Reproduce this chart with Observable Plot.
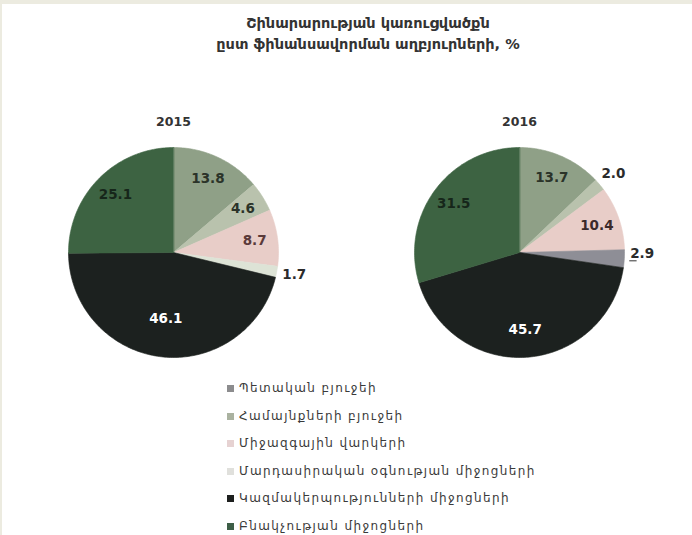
<!DOCTYPE html>
<html>
<head>
<meta charset="utf-8">
<script src="https://cdn.jsdelivr.net/npm/d3@7"></script>
<script src="https://cdn.jsdelivr.net/npm/@observablehq/plot@0.6"></script>
<style>
  html, body { margin: 0; padding: 0; background: #fff; }
  #wrap { position: relative; width: 692px; height: 535px; box-sizing: border-box;
          border-top: 4px solid #ecebe0; border-left: 2px solid #ecebe0; overflow: hidden; }
  #title { position: absolute; left: 166px; top: 9px; width: 400px; text-align: center;
           font-family: "DejaVu Sans", sans-serif; font-weight: bold; font-size: 14.5px;
           line-height: 21px; color: #333; }
  #chart { position: absolute; left: -2px; top: 96px; }
  #legend { position: absolute; left: 225px; top: 371px; font-family: "DejaVu Sans", sans-serif;
            font-size: 12px; color: #3a3a3a; letter-spacing: 1.4px; }
  .row { height: 27.5px; line-height: 27.5px; white-space: nowrap; }
  .sw { display: inline-block; width: 7px; height: 7px; margin-right: 5px; vertical-align: 0px; }
</style>
</head>
<body>
<div id="wrap">
  <div id="title"></div>
  <div id="chart"></div>
  <div id="legend"></div>
</div>
<script>
// ---- data ----
const titleLines = ["Շինարարության կառուցվածքն", "ըստ ֆինանսավորման աղբյուրների, %"];
const years = ["2015", "2016"];
const categories = [
  "Պետական բյուջեի",
  "Համայնքների բյուջեի",
  "Միջազգային վարկերի",
  "Մարդասիրական օգնության միջոցների",
  "Կազմակերպությունների միջոցների",
  "Բնակչության միջոցների"
];
// slices in clockwise order from 12 o'clock, as drawn
const values2015 = [13.8, 4.6, 8.7, 1.7, 46.1, 25.1];
const values2016 = [13.7, 2.0, 10.4, 2.9, 45.7, 31.5];
const labels2015 = ["13.8", "4.6", "8.7", "1.7", "46.1", "25.1"];
const labels2016 = ["13.7", "2.0", "10.4", "2.9", "45.7", "31.5"];

// ---- styles ----
const legendColors = ["#8c8c8e", "#aab2a0", "#e6d2d2", "#e0e0dc", "#1d1f1e", "#3d5e47"];
const sliceColors2015 = ["#8fa087", "#b9c2ad", "#e8cdc8", "#dde3d6", "#1c211f", "#3d6342"];
const sliceColors2016 = ["#8fa087", "#b9c2ad", "#e8cdc8", "#8e8e96", "#1c211f", "#3d6342"];
const textColors2015 = ["#2b3329", "#2b3329", "#5a3a3a", "#2b2b2b", "#ffffff", "#16261a"];
const textColors2016 = ["#2b3329", "#2b2b2b", "#3a2a2a", "#2b2b2b", "#ffffff", "#16261a"];

// ---- layout ----
const W = 692, H = 274, R = 105;
const cyPx = 152;               // pie centre from svg top
const half = 173 / R;           // pie centre offset (units of radius)
const centers = [-half, half];
const yTitle = (cyPx - 21) / R;

document.getElementById("title").innerHTML = titleLines.map(t => `<div>${t}</div>`).join("");

const series = [
  {year: years[0], values: values2015, labels: labels2015, fills: sliceColors2015, tcol: textColors2015},
  {year: years[1], values: values2016, labels: labels2016, fills: sliceColors2016, tcol: textColors2016}
];

const polys = [], texts = [], leaders = [];
series.forEach((s, si) => {
  const cx = centers[si];
  const arcs = d3.pie().sort(null).value(d => d)(s.values);
  arcs.forEach((a, i) => {
    const key = s.year + "-" + i;
    polys.push({key, x: cx, y: 0, fill: s.fills[i]});
    const n = Math.max(2, Math.ceil((a.endAngle - a.startAngle) / (Math.PI / 180)));
    for (let k = 0; k <= n; k++) {
      const t = a.startAngle + (a.endAngle - a.startAngle) * k / n;
      polys.push({key, x: cx + Math.sin(t), y: Math.cos(t), fill: s.fills[i]});
    }
    const mid = (a.startAngle + a.endAngle) / 2;
    const v = s.values[i];
    const small = v < 3.5 && !(s.year === "2015" && i === 1);
    const rr = small ? 1.17 : (v > 40 ? (s.year === "2015" ? 0.63 : 0.74) : 0.78);
    let ty = rr * Math.cos(mid);
    if (small && s.year === "2016" && i === 3) {
      ty += 0.06;
      leaders.push({x1: cx + 1.05, x2: cx + 1.12, y: ty - 0.07});
    }
    texts.push({x: cx + rr * Math.sin(mid), y: ty, text: s.labels[i], fill: s.tcol[i]});
  });
});

const plot = Plot.plot({
  width: W, height: H,
  marginLeft: 0, marginRight: 0, marginTop: 0, marginBottom: 0,
  x: {domain: [-W / 2 / R, W / 2 / R], axis: null},
  y: {domain: [-(H - cyPx) / R, cyPx / R], axis: null},
  color: {type: "identity"},
  style: {background: "transparent", overflow: "visible"},
  marks: [
    Plot.line(polys, {x: "x", y: "y", z: "key", fill: "fill", stroke: "fill", strokeWidth: 0.6, curve: "linear-closed"}),
    Plot.text(texts, {x: "x", y: "y", text: "text", fill: "fill", fontSize: 13.5, fontWeight: "bold",
                      fontFamily: "DejaVu Sans, sans-serif"}),
    Plot.ruleY(leaders, {x1: "x1", x2: "x2", y: "y", stroke: "#333", strokeWidth: 1}),
    Plot.text(years, {x: (d, i) => centers[i], y: () => yTitle, text: d => d, fontSize: 12.5, fontWeight: "bold",
                      fill: "#333", fontFamily: "DejaVu Sans, sans-serif"})
  ]
});
document.getElementById("chart").appendChild(plot);

document.getElementById("legend").innerHTML = categories.map((c, i) =>
  `<div class="row"><span class="sw" style="background:${legendColors[i]}"></span>${c}</div>`).join("");
</script>
</body>
</html>
